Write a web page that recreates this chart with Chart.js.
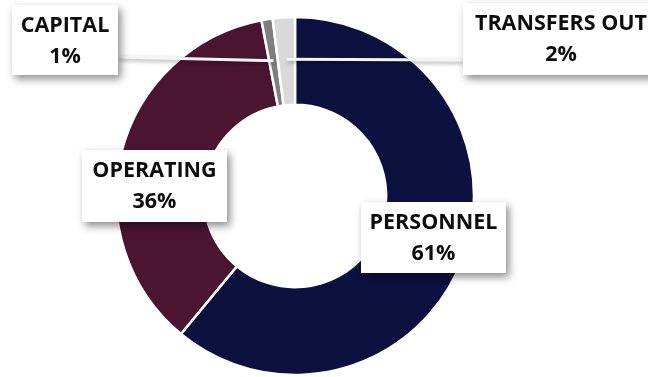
<!DOCTYPE html>
<html>
<head>
<meta charset="utf-8">
<script src="https://cdn.jsdelivr.net/npm/chart.js@4.4.0/dist/chart.umd.min.js"></script>
<style>
  html, body { margin: 0; padding: 0; background: #fff; overflow: hidden; }
  #wrap { width: 648px; height: 377px; position: relative; }
</style>
</head>
<body>
<div id="wrap"><canvas id="budgetChart"></canvas></div>
<script>
const categories = ['PERSONNEL', 'OPERATING', 'CAPITAL', 'TRANSFERS OUT'];
const shares = [61, 36, 1, 2];
const sliceColors = ['#0d1140', '#4b1532', '#7f7f7f', '#d9d9d9'];

// callout boxes, one per slice; leader = draw a pointer line into the ring
const callouts = [
  { x: 361, y: 202, w: 145, h: 71 },
  { x: 82, y: 150, w: 145, h: 72 },
  { x: 12, y: 5, w: 106, h: 70, leader: { fromX: 118, fromY: 57 } },
  { x: 463, y: 3, w: 200, h: 72, textX: 561, leader: { fromX: 463, fromY: 60 } },
];

const calloutPlugin = {
  id: 'callouts',
  afterDatasetsDraw(chart) {
    const ctx = chart.ctx;
    const arcs = chart.getDatasetMeta(0).data;
    const total = shares.reduce((a, b) => a + b, 0);

    ctx.save();
    // leader lines first so the boxes sit on top
    callouts.forEach((c, i) => {
      if (!c.leader) return;
      const arc = arcs[i];
      const mid = (arc.startAngle + arc.endAngle) / 2;
      const r = arc.outerRadius - 42;
      const tx = arc.x + Math.cos(mid) * r;
      const ty = arc.y + Math.sin(mid) * r;
      ctx.shadowColor = 'rgba(0,0,0,0.35)';
      ctx.shadowBlur = 4;
      ctx.shadowOffsetX = 1;
      ctx.shadowOffsetY = 2;
      ctx.strokeStyle = '#f6f6f6';
      ctx.lineWidth = 3;
      ctx.beginPath();
      ctx.moveTo(c.leader.fromX, c.leader.fromY);
      ctx.lineTo(tx, ty);
      ctx.stroke();
    });

    callouts.forEach((c, i) => {
      ctx.shadowColor = 'rgba(0,0,0,0.45)';
      ctx.shadowBlur = 8;
      ctx.shadowOffsetX = 3;
      ctx.shadowOffsetY = 4;
      ctx.fillStyle = '#ffffff';
      ctx.fillRect(c.x, c.y, c.w, c.h);

      ctx.shadowColor = 'transparent';
      ctx.fillStyle = '#0d0d0d';
      ctx.font = 'bold 21.5px "Open Sans"';
      ctx.textAlign = 'center';
      ctx.textBaseline = 'middle';
      const cx = c.textX !== undefined ? c.textX : c.x + c.w / 2;
      const pct = Math.round(shares[i] / total * 100) + '%';
      ctx.fillText(categories[i], cx, c.y + 21);
      ctx.fillText(pct, cx, c.y + 52);
    });
    ctx.restore();
  }
};

new Chart(document.getElementById('budgetChart'), {
  type: 'doughnut',
  data: {
    labels: categories,
    datasets: [{
      data: shares,
      backgroundColor: sliceColors,
      borderColor: '#ffffff',
      borderWidth: 2.5,
    }],
  },
  options: {
    responsive: true,
    maintainAspectRatio: false,
    animation: false,
    radius: 179,
    cutout: 90,
    layout: { padding: { left: 117, right: 175, top: 18, bottom: 3 } },
    plugins: {
      legend: { display: false },
      tooltip: { enabled: false },
    },
  },
  plugins: [calloutPlugin],
});
</script>
</body>
</html>
